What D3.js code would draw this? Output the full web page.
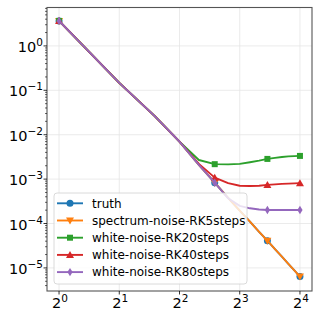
<!DOCTYPE html>
<html>
<head>
<meta charset="utf-8">
<script src="https://cdn.jsdelivr.net/npm/d3@7"></script>
<style>
  body { margin: 0; background: #fff; }
  text { font-family: "DejaVu Sans", sans-serif; fill: #000; }
</style>
</head>
<body>
<svg id="chart" width="319" height="319"></svg>
<script>
// wavenumbers, error curves
const steps = [1, 2, 3, 4, 5, 6, 7, 8, 9, 10, 11, 12, 13, 14, 15, 16];
const truth = [3.66, 0.147, 0.0265, 0.0070, 0.0021, 8.3e-4, 3.8e-4, 1.95e-4, 1.1e-4, 6.5e-5, 4.1e-5, 2.66e-5, 1.8e-5, 1.24e-5, 8.8e-6, 6.4e-6];
const spectrumRK5 = [3.66, 0.147, 0.0265, 0.0070, 0.0021, 8.3e-4, 3.8e-4, 1.95e-4, 1.1e-4, 6.5e-5, 4.1e-5, 2.66e-5, 1.8e-5, 1.24e-5, 8.8e-6, 6.4e-6];
const whiteRK20 = [3.66, 0.147, 0.0265, 0.0070, 0.0027, 2.17e-3, 2.15e-3, 2.2e-3, 2.4e-3, 2.6e-3, 2.85e-3, 3.0e-3, 3.15e-3, 3.25e-3, 3.3e-3, 3.33e-3];
const whiteRK40 = [3.66, 0.147, 0.0265, 0.0070, 0.0022, 1.08e-3, 8.1e-4, 7.1e-4, 7.0e-4, 7.1e-4, 7.4e-4, 7.6e-4, 7.8e-4, 7.9e-4, 8.0e-4, 8.1e-4];
const whiteRK80 = [3.66, 0.147, 0.0265, 0.0070, 0.0021, 8.3e-4, 3.7e-4, 2.5e-4, 2.2e-4, 2.07e-4, 2.02e-4, 2.02e-4, 2.02e-4, 2.02e-4, 2.02e-4, 2.02e-4];
const labels = ["truth", "spectrum-noise-RK5steps", "white-noise-RK20steps", "white-noise-RK40steps", "white-noise-RK80steps"];
const xTickExp = [0, 1, 2, 3, 4];
const yTickExp = [0, -1, -2, -3, -4, -5];

const colors = ["#1f77b4", "#ff7f0e", "#2ca02c", "#d62728", "#9467bd"];
const markers = ["circle", "tridown", "square", "triup", "thindiamond"];
const allSeries = [truth, spectrumRK5, whiteRK20, whiteRK40, whiteRK80];

const svg = d3.select("#chart");
const mLeft = 47, mRight = 312, mTop = 7.5, mBottom = 291;

const x = d3.scaleLog().base(2).domain([Math.pow(2, -0.2), Math.pow(2, 4.2)]).range([mLeft, mRight]);
const y = d3.scaleLog().domain([Math.pow(10, -5.52), Math.pow(10, 0.865)]).range([mBottom, mTop]);

// grid
const grid = svg.append("g");
xTickExp.forEach(function (e) {
  grid.append("line").attr("x1", x(Math.pow(2, e))).attr("x2", x(Math.pow(2, e)))
    .attr("y1", mTop).attr("y2", mBottom).attr("stroke", "#e6e6e6").attr("stroke-width", 0.8);
});
yTickExp.forEach(function (e) {
  grid.append("line").attr("y1", y(Math.pow(10, e))).attr("y2", y(Math.pow(10, e)))
    .attr("x1", mLeft).attr("x2", mRight).attr("stroke", "#e6e6e6").attr("stroke-width", 0.8);
});

function markerPath(type) {
  if (type === "circle") return d3.symbol(d3.symbolCircle, Math.PI * 3.5 * 3.5)();
  if (type === "square") return "M-3,-3H3V3H-3Z";
  if (type === "triup") return "M0,-4L4,3L-4,3Z";
  if (type === "tridown") return "M0,4L4,-3L-4,-3Z";
  return "M0,-4.2L2.6,0L0,4.2L-2.6,0Z";
}

const line = d3.line().x(function (d) { return x(d[0]); }).y(function (d) { return y(d[1]); });

const plot = svg.append("g");
allSeries.forEach(function (vals, i) {
  const pts = steps.map(function (k, j) { return [k, vals[j]]; });
  plot.append("path").datum(pts).attr("d", line).attr("fill", "none")
    .attr("stroke", colors[i]).attr("stroke-width", 1.9).attr("stroke-linejoin", "round");
  plot.selectAll(null).data(pts.filter(function (d, j) { return j % 5 === 0; }))
    .enter().append("path")
    .attr("d", markerPath(markers[i]))
    .attr("transform", function (d) { return "translate(" + x(d[0]) + "," + y(d[1]) + ")"; })
    .attr("fill", colors[i]);
});

// spines
svg.append("rect").attr("x", mLeft).attr("y", mTop).attr("width", mRight - mLeft).attr("height", mBottom - mTop)
  .attr("fill", "none").attr("stroke", "#555").attr("stroke-width", 1.1);

// x ticks
xTickExp.forEach(function (e) {
  const px = x(Math.pow(2, e));
  svg.append("line").attr("x1", px).attr("x2", px).attr("y1", mBottom).attr("y2", mBottom + 3.5)
    .attr("stroke", "#000").attr("stroke-width", 0.8);
  const t = svg.append("text").attr("x", px + 1).attr("y", 308).attr("text-anchor", "middle").style("font-size", "14.5px");
  t.append("tspan").text("2");
  t.append("tspan").attr("dy", -6).style("font-size", "10.5px").text(e);
});

// y ticks (major + minor)
yTickExp.forEach(function (e) {
  const py = y(Math.pow(10, e));
  svg.append("line").attr("x1", mLeft - 3.5).attr("x2", mLeft).attr("y1", py).attr("y2", py)
    .attr("stroke", "#000").attr("stroke-width", 0.8);
  const t = svg.append("text").attr("x", 43).attr("y", py + 6).attr("text-anchor", "end").style("font-size", "14.5px");
  t.append("tspan").text("10");
  t.append("tspan").attr("dy", -6).style("font-size", "10.5px").text(e < 0 ? "\u2212" + (-e) : e);
});
for (let e = -6; e <= 0; e++) {
  for (let m = 2; m <= 9; m++) {
    const v = m * Math.pow(10, e);
    if (v < y.domain()[0] || v > y.domain()[1]) continue;
    const py = y(v);
    svg.append("line").attr("x1", mLeft - 2).attr("x2", mLeft).attr("y1", py).attr("y2", py)
      .attr("stroke", "#000").attr("stroke-width", 0.6);
  }
}

// legend
const legend = svg.append("g");
legend.append("rect").attr("x", 54).attr("y", 193).attr("width", 193).attr("height", 91)
  .attr("rx", 3).attr("fill", "#fff").attr("fill-opacity", 0.8).attr("stroke", "#d0d0d0").attr("stroke-width", 0.8);
labels.forEach(function (lab, i) {
  const ly = 203.3 + i * 17.2;
  legend.append("line").attr("x1", 57).attr("x2", 83).attr("y1", ly).attr("y2", ly)
    .attr("stroke", colors[i]).attr("stroke-width", 1.9);
  legend.append("path").attr("d", markerPath(markers[i]))
    .attr("transform", "translate(70," + ly + ")").attr("fill", colors[i]);
  legend.append("text").attr("x", 92).attr("y", ly + 4.3).style("font-size", "12px").text(lab);
});
</script>
</body>
</html>
